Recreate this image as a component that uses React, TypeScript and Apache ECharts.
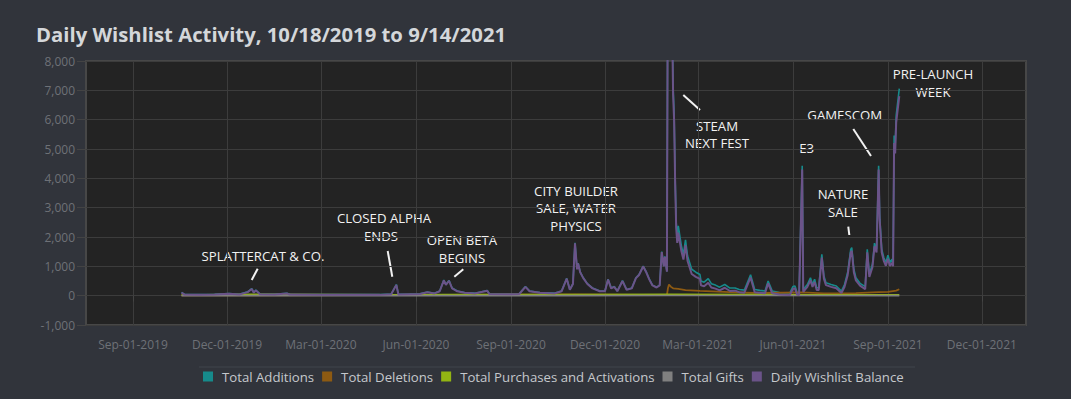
import React, { useEffect, useRef } from 'react';
import * as echarts from 'echarts';

// ---------- DATA ----------
const activityDates = [
  '2019-10-18','2019-10-21','2019-11-04','2019-11-19','2019-12-03','2019-12-13','2019-12-21','2019-12-25','2019-12-27','2019-12-29',
  '2020-01-02','2020-01-16','2020-01-28','2020-01-31','2020-02-29','2020-03-29','2020-04-27','2020-05-08','2020-05-13','2020-05-15',
  '2020-05-26','2020-06-05','2020-06-12','2020-06-19','2020-06-24','2020-06-28','2020-06-30','2020-07-03','2020-07-06','2020-07-11',
  '2020-07-18','2020-07-28','2020-08-09','2020-08-11','2020-08-31','2020-09-09','2020-09-15','2020-09-19','2020-09-29','2020-10-13',
  '2020-10-20','2020-10-25','2020-10-28','2020-10-31','2020-11-02','2020-11-04','2020-11-05','2020-11-07','2020-11-10','2020-11-14',
  '2020-11-19','2020-11-26','2020-12-01','2020-12-04','2020-12-07','2020-12-10','2020-12-13','2020-12-18','2020-12-22','2020-12-27',
  '2020-12-31','2021-01-03','2021-01-07','2021-01-10','2021-01-13','2021-01-16','2021-01-20','2021-01-23','2021-01-25','2021-01-27',
  '2021-01-28','2021-01-30','2021-01-31','2021-02-01','2021-02-02','2021-02-03','2021-02-04','2021-02-05','2021-02-06','2021-02-07',
  '2021-02-08','2021-02-09','2021-02-10','2021-02-13','2021-02-15','2021-02-17','2021-02-19','2021-02-23','2021-02-27','2021-03-03',
  '2021-03-04','2021-03-07','2021-03-11','2021-03-14','2021-03-18','2021-03-22','2021-03-27','2021-04-01','2021-04-06','2021-04-10',
  '2021-04-15','2021-04-21','2021-04-25','2021-04-30','2021-05-05','2021-05-08','2021-05-12','2021-05-19','2021-05-29','2021-06-01',
  '2021-06-03','2021-06-05','2021-06-07','2021-06-10','2021-06-11','2021-06-15','2021-06-18','2021-06-20','2021-06-22','2021-06-24',
  '2021-06-26','2021-06-29','2021-07-01','2021-07-03','2021-07-08','2021-07-13','2021-07-18','2021-07-21','2021-07-24','2021-07-27',
  '2021-07-28','2021-07-30','2021-08-01','2021-08-05','2021-08-10','2021-08-12','2021-08-14','2021-08-16','2021-08-17','2021-08-19',
  '2021-08-21','2021-08-23','2021-08-24','2021-08-26','2021-08-28','2021-08-30','2021-09-01','2021-09-03','2021-09-05','2021-09-06',
  '2021-09-07','2021-09-08','2021-09-09','2021-09-12',
];

const totalAdditions = [
  110, 45, 35, 45, 75, 45, 130, 240, 110, 190,
  55, 45, 85, 45, 35, 35, 35, 55, 380, 45,
  55, 65, 125, 85, 160, 530, 380, 520, 260, 160,
  105, 85, 175, 65, 55, 65, 310, 160, 105, 85,
  160, 590, 210, 410, 1800, 910, 1110, 810, 610, 410,
  260, 160, 160, 560, 260, 310, 160, 510, 210, 260,
  610, 720, 1010, 810, 560, 360, 290, 360, 1500, 1010,
  1340, 830, 13000, 15500, 14000, 11500, 9600, 7100, 6200, 4000,
  2500, 2000, 2380, 1700, 1400, 1900, 1350, 900, 800, 720,
  500, 460, 580, 410, 360, 290, 380, 260, 260, 210,
  190, 710, 210, 180, 160, 500, 160, 110, 90, 310,
  330, 110, 90, 4430, 210, 380, 610, 380, 560, 270,
  270, 1410, 670, 440, 380, 330, 160, 380, 790, 1580,
  1640, 900, 610, 420, 310, 1580, 730, 960, 1070, 1790,
  1580, 4430, 2720, 1580, 1300, 1130, 1380, 1130, 1240, 1130,
  5460, 5110, 6140, 7060,
];

const dailyBalance = [
  100, 37, 27, 37, 66, 37, 121, 230, 101, 181,
  47, 37, 76, 37, 27, 27, 27, 47, 368, 37,
  47, 56, 115, 76, 150, 518, 369, 508, 249, 150,
  96, 76, 165, 56, 46, 56, 298, 150, 96, 76,
  150, 578, 199, 398, 1782, 896, 1095, 797, 598, 398,
  249, 150, 150, 548, 249, 298, 150, 498, 199, 249,
  598, 706, 996, 797, 548, 348, 279, 348, 1484, 996,
  1325, 816, 12600, 15000, 13600, 11100, 9300, 6850, 5950, 3800,
  2300, 1800, 2150, 1520, 1230, 1720, 1180, 740, 640, 570,
  350, 320, 440, 280, 240, 180, 270, 160, 170, 120,
  100, 620, 120, 100, 80, 420, 80, 40, 20, 230,
  250, 40, 20, 4300, 130, 300, 520, 300, 470, 190,
  190, 1300, 580, 360, 300, 250, 90, 300, 700, 1470,
  1530, 800, 520, 340, 220, 1480, 640, 860, 970, 1680,
  1470, 4300, 2600, 1470, 1190, 1020, 1260, 1010, 1120, 1000,
  5200, 4850, 5900, 6800,
];

const deletionDates = [
  '2019-10-18','2020-01-01','2020-06-28','2020-11-02','2021-01-07','2021-01-30','2021-01-31','2021-02-01','2021-02-03','2021-02-05',
  '2021-02-10','2021-02-17','2021-03-03','2021-04-01','2021-05-01','2021-06-10','2021-07-01','2021-08-01','2021-08-23','2021-09-01',
  '2021-09-09','2021-09-12',
];
const totalDeletions = [
  10, 15, 30, 40, 30, 30, 250, 380, 300, 250,
  230, 190, 160, 120, 90, 110, 80, 90, 120, 130,
  170, 220,
];

const purchaseDates = ['2019-10-18','2019-12-25','2020-05-13','2020-06-28','2020-11-02','2021-02-01','2021-06-10','2021-08-23','2021-09-12'];
const totalPurchases = [20, 40, 25, 35, 35, 45, 30, 30, 25];

const giftDates = ['2019-10-18','2020-11-02','2021-02-01','2021-09-12'];
const totalGifts = [0, 2, 5, 3];

const xTickDates = ['2019-09-01','2019-12-01','2020-03-01','2020-06-01','2020-09-01','2020-12-01','2021-03-01','2021-06-01','2021-09-01','2021-12-01'];
const seriesNames = ['Total Additions','Total Deletions','Total Purchases and Activations','Total Gifts','Daily Wishlist Balance'];
const seriesColors = ['#168a8b','#8d5a12','#93b413','#808080','#6b5389'];
const seriesWidths = [1.6, 1.8, 1.8, 1.6, 2];

// ---------- HELPERS ----------
const DAY = 86400000;
const ts = (s: string) => { const [y, m, d] = s.split('-').map(Number); return Date.UTC(y, m - 1, d); };
const MONTHS = ['Jan','Feb','Mar','Apr','May','Jun','Jul','Aug','Sep','Oct','Nov','Dec'];
const fmtDate = (v: number) => {
  const d = new Date(v);
  return `${MONTHS[d.getUTCMonth()]}-${String(d.getUTCDate()).padStart(2, '0')}-${d.getUTCFullYear()}`;
};
const pairs = (dates: string[], vals: number[]) => dates.map((d, i) => [ts(d), vals[i]]);

export default function App() {
  const ref = useRef<HTMLDivElement>(null);
  useEffect(() => {
    document.body.style.margin = '0';
    const chart = echarts.init(ref.current!, undefined, { renderer: 'svg' });
    const tickVals = xTickDates.map(ts);
    const font = 'Open Sans';
    const annoFont = `13.2px "Open Sans"`;
    const txt = (text: string, x: number, y: number) => ({
      type: 'text', x, y, silent: true,
      style: { text, fill: '#f2f2f2', font: annoFont, align: 'center', verticalAlign: 'middle' },
    });
    const seg = (x1: number, y1: number, x2: number, y2: number) => ({
      type: 'line', silent: true, shape: { x1, y1, x2, y2 }, style: { stroke: '#f2f2f2', lineWidth: 2 },
    });
    const dataSets = [
      pairs(activityDates, totalAdditions),
      pairs(deletionDates, totalDeletions),
      pairs(purchaseDates, totalPurchases),
      pairs(giftDates, totalGifts),
      pairs(activityDates, dailyBalance),
    ];
    chart.setOption({
      animation: false,
      backgroundColor: '#31343b',
      title: {
        text: 'Daily Wishlist Activity, 10/18/2019 to 9/14/2021',
        left: 36, top: 24, padding: 0,
        textStyle: { color: '#d4d7da', fontSize: 20.3, fontWeight: 'bold', fontFamily: font },
      },
      grid: {
        left: 86, right: 45, top: 61, bottom: 74,
        show: true, backgroundColor: '#232323', borderColor: '#474747', borderWidth: 2,
      },
      legend: {
        left: 203, top: 370, padding: 0, itemWidth: 10, itemHeight: 10, itemGap: 8, icon: 'rect',
        data: seriesNames,
        textStyle: { color: '#c5c8cc', fontSize: 13.2, fontFamily: font, padding: [0, 0, 0, 4] },
      },
      xAxis: {
        type: 'value',
        min: ts('2019-07-17') + 0.5 * DAY,
        max: ts('2022-01-12') + 0.7 * DAY,
        axisLine: { show: false },
        axisTick: { show: true, length: 6, customValues: tickVals, lineStyle: { color: '#444' } },
        axisLabel: { customValues: tickVals, formatter: (v: number) => fmtDate(v), color: '#6e7177', fontSize: 12, fontFamily: font, margin: 13 },
        splitLine: { show: true, lineStyle: { color: '#3c3c3c', width: 1 } },
      },
      yAxis: {
        type: 'value', min: -1000, max: 8000, interval: 1000,
        axisLine: { show: false },
        axisTick: { show: true, length: 9, lineStyle: { color: '#444' } },
        axisLabel: { formatter: (v: number) => v.toLocaleString('en-US'), color: '#6e7177', fontSize: 12, fontFamily: font, margin: 11 },
        splitLine: { show: true, lineStyle: { color: '#3c3c3c', width: 1 } },
      },
      series: seriesNames.map((name, i) => ({
        name, type: 'line', data: dataSets[i], showSymbol: false, symbol: 'none',
        color: seriesColors[i],
        lineStyle: { width: seriesWidths[i], color: seriesColors[i] },
        itemStyle: { color: seriesColors[i] },
        z: 2 + i,
      })),
      graphic: [
        { type: 'line', silent: true, shape: { x1: 199, y1: 367, x2: 915, y2: 367 }, style: { stroke: '#40444c', lineWidth: 1 } },
        txt('SPLATTERCAT & CO.', 263, 256),
        seg(257.7, 268.7, 251.7, 280),
        txt('CLOSED ALPHA', 384, 218),
        txt('ENDS', 381, 236),
        seg(387.7, 251, 392.3, 276.7),
        txt('OPEN BETA', 462, 239.5),
        txt('BEGINS', 462, 257.5),
        seg(463.3, 269.3, 454.3, 276.7),
        txt('CITY BUILDER', 576, 190.5),
        txt('SALE, WATER', 576, 208.3),
        txt('PHYSICS', 576, 226),
        txt('STEAM', 717, 125.7),
        txt('NEXT FEST', 717, 143.3),
        seg(683.3, 95, 700, 110),
        txt('E3', 806.7, 148.3),
        txt('GAMESCOM', 844.7, 115),
        seg(853.3, 129, 871, 156),
        txt('NATURE', 843, 194),
        txt('SALE', 843, 212.3),
        seg(848.3, 226.7, 849.3, 235),
        txt('PRE-LAUNCH', 933, 74),
        txt('WEEK', 933, 92),
      ],
    });
    return () => chart.dispose();
  }, []);
  return <div ref={ref} style={{ width: 1071, height: 399 }} />;
}
